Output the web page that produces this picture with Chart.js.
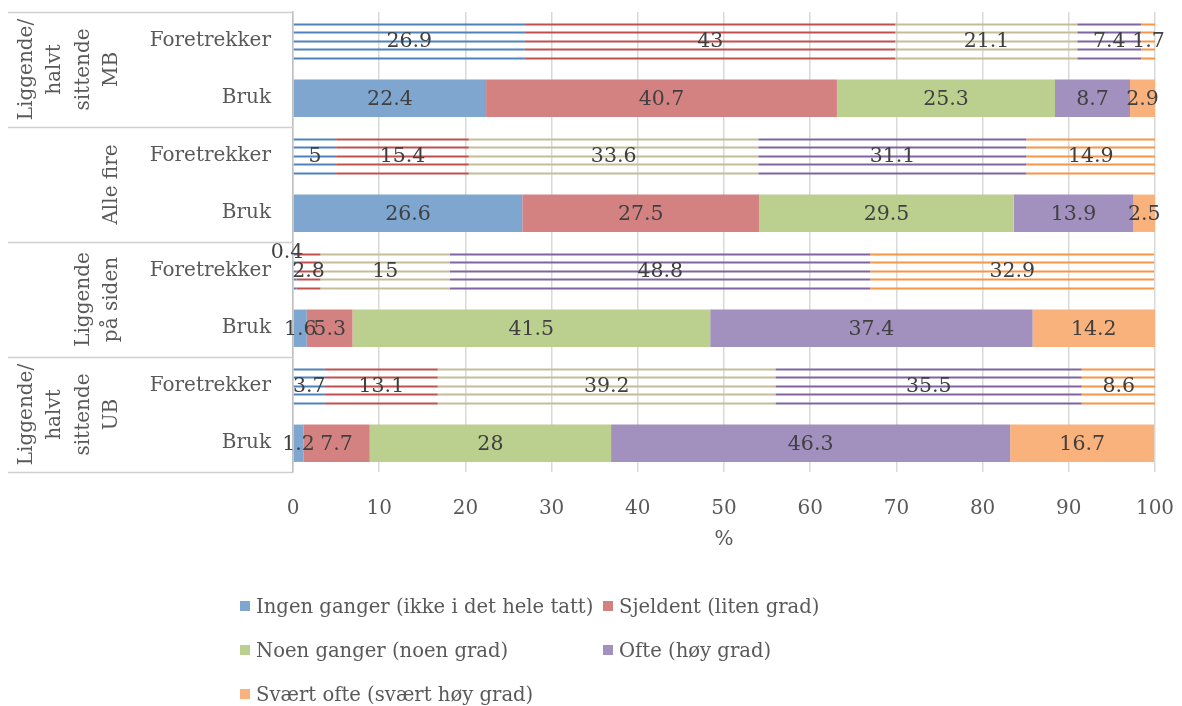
<!DOCTYPE html>
<html>
<head>
<meta charset="utf-8">
<script src="https://cdn.jsdelivr.net/npm/chart.js@4.4.0/dist/chart.umd.min.js"></script>
<style>
  body { margin: 0; background: #fff; }
  #wrap { position: relative; width: 1182px; height: 706px; overflow: hidden; }
  #legend {
    position: absolute; left: 240px; top: 584px;
    display: grid; grid-template-columns: 363px auto; grid-auto-rows: 44px;
    font: 19.6px "DejaVu Serif", serif; color: #595959;
  }
  #legend div { display: flex; align-items: center; white-space: nowrap; }
  #legend span.box { width: 10px; height: 10px; margin-right: 6px; display: inline-block; }
</style>
</head>
<body>
<div id="wrap">
  <canvas id="myChart" width="1182" height="706"></canvas>
  <div id="legend"></div>
</div>
<script>
// row labels (top to bottom) and the group each pair belongs to
const rowLabels = ["Foretrekker", "Bruk", "Foretrekker", "Bruk", "Foretrekker", "Bruk", "Foretrekker", "Bruk"];
const groupLabels = [
    ["Liggende/", "halvt", "sittende", "MB"],
    ["Alle fire"],
    ["Liggende", "på siden"],
    ["Liggende/", "halvt", "sittende", "UB"]
];

const seriesNames = [
    "Ingen ganger (ikke i det hele tatt)",
    "Sjeldent (liten grad)",
    "Noen ganger (noen grad)",
    "Ofte (høy grad)",
    "Svært ofte (svært høy grad)"
];

// values in %
const ingenGanger = [26.9, 22.4, 5, 26.6, 0.4, 1.6, 3.7, 1.2];
const sjeldent = [43, 40.7, 15.4, 27.5, 2.8, 5.3, 13.1, 7.7];
const noenGanger = [21.1, 25.3, 33.6, 29.5, 15, 41.5, 39.2, 28];
const ofte = [7.4, 8.7, 31.1, 13.9, 48.8, 37.4, 35.5, 46.3];
const svaertOfte = [1.7, 2.9, 14.9, 2.5, 32.9, 14.2, 8.6, 16.7];

const xMin = 0;
const xMax = 100;
const xStep = 10;

// solid fills (Bruk) and stripe colours (Foretrekker)
const solidColors = ["#7fa6cf", "#d48181", "#bbd08f", "#a290bf", "#f9b27c"];
const stripeColors = ["#4f81bd", "#c0504d", "#c4bd97", "#8064a2", "#f79646"];

const allSeries = [ingenGanger, sjeldent, noenGanger, ofte, svaertOfte];
const FONT = '"DejaVu Serif", serif';

// stripes for "Foretrekker" bars + value labels
const barExtras = {
    id: 'barExtras',
    afterDatasetsDraw(chart) {
        const ctx = chart.ctx;
        const area = chart.chartArea;
        ctx.save();
        ctx.beginPath();
        ctx.rect(area.left, area.top, area.right - area.left, area.bottom - area.top);
        ctx.clip();
        chart.data.datasets.forEach((ds, d) => {
            chart.getDatasetMeta(d).data.forEach((bar, i) => {
                if (rowLabels[i] !== "Foretrekker") return;
                const x0 = Math.min(bar.base, bar.x);
                const x1 = Math.max(bar.base, bar.x);
                ctx.strokeStyle = stripeColors[d];
                ctx.lineWidth = 2;
                for (let k = -2; k <= 2; k++) {
                    const y = Math.round(bar.y + k * 8.6) + 0.5;
                    ctx.beginPath();
                    ctx.moveTo(x0, y);
                    ctx.lineTo(x1, y);
                    ctx.stroke();
                }
            });
        });
        ctx.restore();

        ctx.save();
        ctx.font = '20.5px ' + FONT;
        ctx.fillStyle = '#404040';
        ctx.textAlign = 'center';
        ctx.textBaseline = 'middle';
        chart.data.datasets.forEach((ds, d) => {
            chart.getDatasetMeta(d).data.forEach((bar, i) => {
                const v = ds.data[i];
                let cx = (bar.base + bar.x) / 2;
                let cy = bar.y;
                if (v < 1) { // too thin: put the label over the bar
                    cx -= 8;
                    cy = bar.y - bar.height / 2;
                }
                ctx.fillText(String(v), cx, cy + 1);
            });
        });
        ctx.restore();
    },
    afterDraw(chart) {
        // group boxes on the left
        const ctx = chart.ctx;
        const area = chart.chartArea;
        const groupH = (area.bottom - area.top) / groupLabels.length;
        ctx.save();
        ctx.strokeStyle = '#d0d0d0';
        ctx.lineWidth = 1.5;
        for (let g = 0; g <= groupLabels.length; g++) {
            const y = Math.round(area.top + g * groupH) + 0.5;
            ctx.beginPath();
            ctx.moveTo(8, y);
            ctx.lineTo(area.left, y);
            ctx.stroke();
        }
        ctx.font = '20px ' + FONT;
        ctx.fillStyle = '#595959';
        ctx.textAlign = 'center';
        ctx.textBaseline = 'middle';
        groupLabels.forEach((lines, g) => {
            const cy = area.top + (g + 0.5) * groupH;
            lines.forEach((line, j) => {
                const cx = 112 - (lines.length - 1 - j) * 28.5;
                ctx.save();
                ctx.translate(cx, cy);
                ctx.rotate(-Math.PI / 2);
                ctx.fillText(line, 0, 0);
                ctx.restore();
            });
        });
        ctx.restore();
    }
};

const ctx = document.getElementById('myChart').getContext('2d');

const myChart = new Chart(ctx, {
    type: 'bar',
    data: {
        labels: rowLabels,
        datasets: allSeries.map((values, d) => ({
            label: seriesNames[d],
            data: values,
            backgroundColor: (c) => rowLabels[c.dataIndex] === "Foretrekker" ? 'rgba(0,0,0,0)' : solidColors[d],
            borderWidth: 0,
            barPercentage: 0.65,
            categoryPercentage: 1
        }))
    },
    options: {
        indexAxis: 'y',
        responsive: false,
        animation: false,
        layout: { padding: { left: 8, top: 12, right: 27, bottom: 150 } },
        plugins: {
            legend: { display: false },
            tooltip: { enabled: false }
        },
        scales: {
            x: {
                stacked: true,
                min: xMin,
                max: xMax,
                ticks: {
                    stepSize: xStep,
                    color: '#595959',
                    font: { family: FONT, size: 20 },
                    padding: 25
                },
                grid: { color: '#d9d9d9', lineWidth: 1.5, drawTicks: false },
                border: { display: false },
                title: {
                    display: true,
                    text: '%',
                    color: '#595959',
                    font: { family: FONT, size: 20 },
                    padding: { top: 10, bottom: 4 }
                },
                afterFit(scale) {
                    scale.height = 84;
                    scale.paddingLeft = 0;
                    scale.paddingRight = 0;
                }
            },
            y: {
                stacked: true,
                ticks: {
                    color: '#595959',
                    font: { family: FONT, size: 20 },
                    padding: 22
                },
                grid: { display: false, drawTicks: false },
                border: { display: true, color: '#bfbfbf', width: 1.5 },
                afterFit(scale) {
                    scale.width = 285;
                    scale.paddingTop = 0;
                    scale.paddingBottom = 0;
                }
            }
        }
    },
    plugins: [barExtras]
});

// legend in two columns
const legendEl = document.getElementById('legend');
seriesNames.forEach((name, d) => {
    const item = document.createElement('div');
    const box = document.createElement('span');
    box.className = 'box';
    box.style.background = solidColors[d];
    item.appendChild(box);
    item.appendChild(document.createTextNode(name));
    legendEl.appendChild(item);
});
</script>
</body>
</html>
